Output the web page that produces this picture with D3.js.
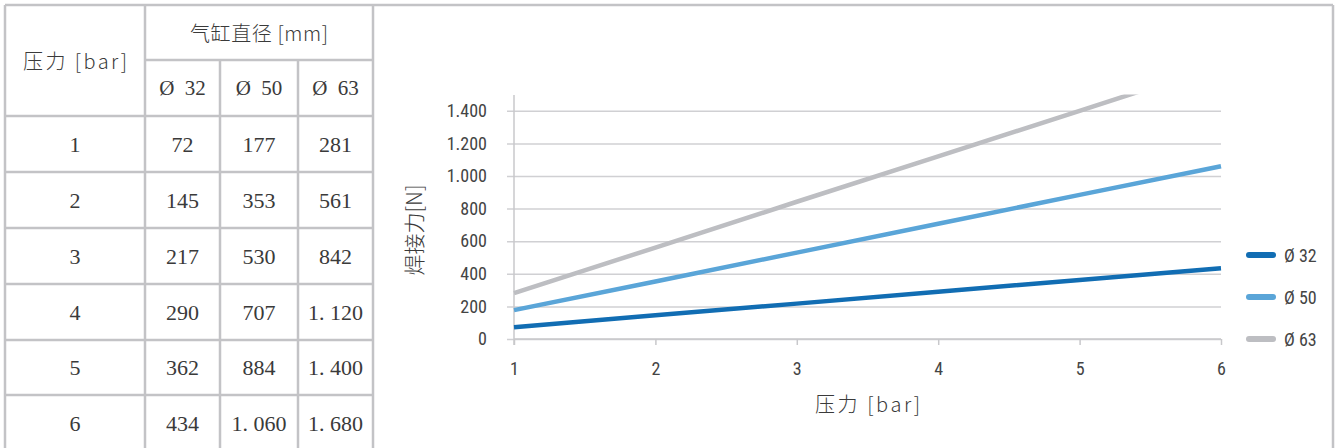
<!DOCTYPE html>
<html><head><meta charset="utf-8">
<script src="https://cdn.jsdelivr.net/npm/d3@7/dist/d3.min.js"></script>
<style>
html,body{margin:0;padding:0;background:#fff;}
svg{display:block;}
</style></head>
<body>
<svg id="c" width="1336" height="448"></svg>
<script>
const pressures = [1, 2, 3, 4, 5, 6];
const seriesNames = ["Ø 32", "Ø 50", "Ø 63"];
const headerNames = ["Ø 32", "Ø 50", "Ø 63"];
const d32 = [72, 145, 217, 290, 362, 434];
const d50 = [177, 353, 530, 707, 884, 1060];
const d63 = [281, 561, 842, 1120, 1400, 1680];
const yTicks = [0, 200, 400, 600, 800, 1000, 1200, 1400];
const colors = ["#116db3", "#5aa5d8", "#bdbec2"];
const seriesData = [d32, d50, d63];

const svg = d3.select("#c");
const gridC = "#c3c3c6";
const serif = "'Liberation Serif','DejaVu Serif',serif";
const cjk = "'Noto Sans CJK SC',sans-serif";
const fmt = v => v >= 1000 ? d3.format(",")(v).replace(",", ".") : String(v);

// ---------- Table ----------
const colX = [5, 145, 220, 298, 373];
const rowY = [5, 60, 116, 172, 228, 284, 340, 395, 451];
const t = svg.append("g");
t.append("line").attr("x1", 5).attr("x2", 1333).attr("y1", 5).attr("y2", 5).attr("stroke", gridC).attr("stroke-width", 2.5);
t.append("line").attr("x1", 1333).attr("x2", 1333).attr("y1", 5).attr("y2", 448).attr("stroke", gridC).attr("stroke-width", 2.5);
rowY.forEach((y, i) => {
  if (i === 0) return;
  t.append("line").attr("x1", i === 1 ? colX[1] : colX[0]).attr("x2", colX[4])
    .attr("y1", y).attr("y2", y).attr("stroke", gridC).attr("stroke-width", 2.5);
});
colX.forEach((x, i) => {
  const y1 = (i === 2 || i === 3) ? rowY[1] : rowY[0];
  t.append("line").attr("x1", x).attr("x2", x).attr("y1", y1).attr("y2", 451)
    .attr("stroke", gridC).attr("stroke-width", 2.5);
});
const cellText = (x, y, s, fam, size) => t.append("text").attr("x", x).attr("y", y)
  .attr("text-anchor", "middle").attr("dominant-baseline", "central")
  .attr("font-family", fam || serif).attr("font-size", size || 22).attr("fill", "#3a3a3a").text(s);
cellText((colX[0] + colX[1]) / 2, (rowY[0] + rowY[2]) / 2, "压力 [bar]", cjk, 20)
  .attr("font-weight", 300).attr("textLength", 104).attr("lengthAdjust", "spacing");
cellText((colX[1] + colX[4]) / 2, (rowY[0] + rowY[1]) / 2, "气缸直径 [mm]", cjk, 20)
  .attr("font-weight", 300).attr("textLength", 138).attr("lengthAdjust", "spacing");
headerNames.forEach((h, j) => cellText((colX[j + 1] + colX[j + 2]) / 2, (rowY[1] + rowY[2]) / 2, h.replace(" ", "\u2002"), serif, 21));
pressures.forEach((p, i) => {
  const cy = (rowY[i + 2] + rowY[i + 3]) / 2;
  cellText((colX[0] + colX[1]) / 2, cy, String(p));
  seriesData.forEach((s, j) => cellText((colX[j + 1] + colX[j + 2]) / 2, cy, fmt(s[i]).replace(".", ". ")));
});

// ---------- Chart ----------
const x = d3.scaleLinear().domain([1, 6]).range([514, 1221]);
const y = d3.scaleLinear().domain([0, 1500]).range([339, 94.5]);
const tickFont = "'Liberation Sans Narrow','Roboto Condensed','Liberation Sans',sans-serif";
const ch = svg.append("g");

const yAxis = d3.axisLeft(y).tickValues(yTicks).tickSize(-(x.range()[1] - x.range()[0])).tickPadding(27)
  .tickFormat(fmt);
const gy = ch.append("g").attr("transform", `translate(${x.range()[0]},0)`).call(yAxis);
gy.select(".domain").remove();
gy.selectAll(".tick line").attr("stroke", "#d0d0d3").attr("stroke-width", 1.5).attr("x1", -7);
gy.selectAll(".tick text").attr("font-family", tickFont).attr("font-size", 18).attr("fill", "#444");
ch.append("line").attr("x1", x(1)).attr("x2", x(1)).attr("y1", 95).attr("y2", y(0) + 6)
  .attr("stroke", "#c8c8cb").attr("stroke-width", 1.5);
const xAxis = d3.axisBottom(x).tickValues(pressures).tickSize(6).tickPadding(17).tickFormat(d3.format("d"));
const gx = ch.append("g").attr("transform", `translate(0,${y(0)})`).call(xAxis);
gx.select(".domain").attr("stroke", "#c8c8cb").attr("stroke-width", 1.5).attr("d", `M${x(1)},0H${x(6)}`);
gx.selectAll(".tick line").attr("stroke", "#c8c8cb").attr("stroke-width", 1.5);
gx.selectAll(".tick text").attr("font-family", tickFont).attr("font-size", 18).attr("fill", "#444");

svg.append("defs").append("clipPath").attr("id", "clip").append("rect")
  .attr("x", 500).attr("y", 94.5).attr("width", 740).attr("height", 260);
const line = d3.line().x((d, i) => x(pressures[i])).y(d => y(d));
ch.append("g").attr("clip-path", "url(#clip)").selectAll("path").data(seriesData).join("path")
  .attr("d", line).attr("fill", "none").attr("stroke", (d, i) => colors[i]).attr("stroke-width", 4.5)
  .attr("stroke-linecap", "butt");

ch.append("text").attr("x", (x(1) + x(6)) / 2).attr("y", 403).attr("text-anchor", "middle")
  .attr("dominant-baseline", "central").attr("font-family", cjk).attr("font-weight", 300)
  .attr("font-size", 20).attr("fill", "#3a3a3a").attr("textLength", 105).attr("lengthAdjust", "spacing")
  .text("压力 [bar]");
ch.append("text").attr("transform", "translate(413,230) rotate(-90)").attr("text-anchor", "middle")
  .attr("dominant-baseline", "central").attr("font-family", cjk).attr("font-weight", 300)
  .attr("font-size", 21).attr("fill", "#3a3a3a").text("焊接力[N]");

const lg = ch.append("g");
seriesNames.forEach((n, i) => {
  const ly = 255 + i * 42;
  lg.append("line").attr("x1", 1249).attr("x2", 1273).attr("y1", ly).attr("y2", ly)
    .attr("stroke", colors[i]).attr("stroke-width", 6).attr("stroke-linecap", "round");
  lg.append("text").attr("x", 1284).attr("y", ly).attr("dominant-baseline", "central")
    .attr("font-family", tickFont).attr("font-size", 18).attr("fill", "#444").text(n);
});
</script>
</body></html>
